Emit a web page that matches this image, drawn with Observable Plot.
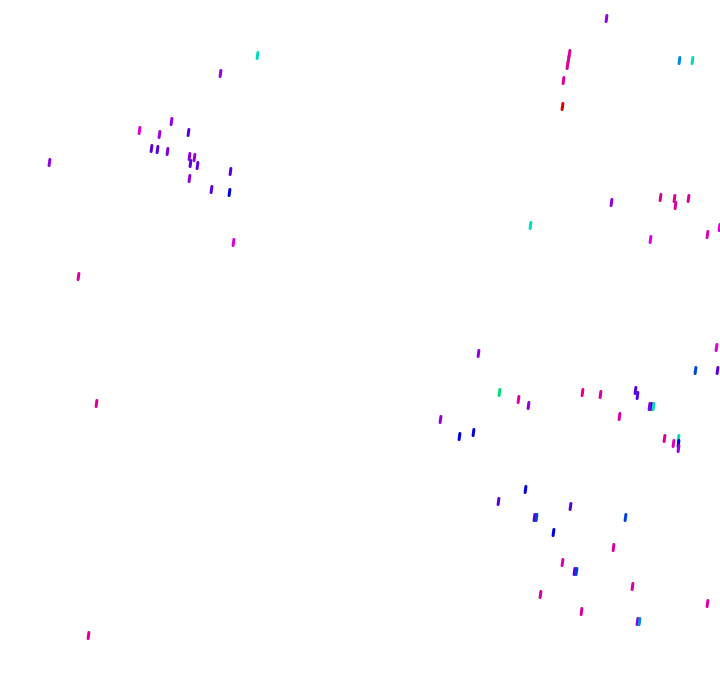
<!DOCTYPE html>
<html>
<head>
<meta charset="utf-8">
<script src="https://cdn.jsdelivr.net/npm/d3@7"></script>
<script src="https://cdn.jsdelivr.net/npm/@observablehq/plot@0.6"></script>
<style>
  html, body { margin: 0; padding: 0; background: #fff; }
  #chart svg { display: block; }
</style>
</head>
<body>
<div id="chart"></div>
<script>
const xs = [257,220,171,139,159,188,151,157,167,189,194,190,197,230,189,211,229,233,49,78,96,88,
  606,569,568,567,563,562,679,692,611,660,674,675,688,650,707,719,530,
  478,716,695,717,499,518,528,582,600,635,637,649,651,653,619,440,459,473,664,673,678,678,678,
  525,498,570,534,536,625,553,613,562,574,576,632,540,581,707,637,639];
const ys = [55,73,121,130,134,132,148,149,151,156,157,163,165,171,178,189,192,242,162,276,403,635,
  18,53,59,65,80,106,60,60,202,197,198,205,198,239,234,227,225,
  353,347,370,370,392,399,405,392,394,390,395,406,406,406,416,419,436,432,438,443,438,443,448,
  489,501,506,517,517,517,532,547,562,571,571,586,594,611,603,621,621];
const hues = [172,280,280,300,285,264,264,264,275,280,282,264,266,264,280,264,240,300,280,318,318,320,
  280,318,318,318,318,0,202,172,280,320,320,318,318,300,312,305,172,
  280,300,222,264,154,312,280,320,318,264,264,280,264,172,318,280,240,240,318,312,172,240,280,
  240,264,264,264,222,222,240,318,312,264,222,318,320,318,312,280,202];

const data = xs.map((x, i) => ({x, y: ys[i], hue: hues[i]}));

const chart = Plot.plot({
  width: 720,
  height: 692,
  margin: 0,
  x: {domain: [0, 720], axis: null},
  y: {domain: [0, 692], reverse: true, axis: null},
  color: {type: "linear", domain: [0, 360], interpolate: t => d3.hsl(t * 360, 1, 0.43).toString()},
  marks: [
    Plot.vector(data, {
      x: "x", y: "y", stroke: "hue",
      length: 6, rotate: 8, anchor: "middle", strokeWidth: 3,
      shape: {draw(c, l) { c.moveTo(0, 0); c.lineTo(0, -l); }}
    })
  ]
});
document.getElementById("chart").append(chart);
</script>
</body>
</html>
